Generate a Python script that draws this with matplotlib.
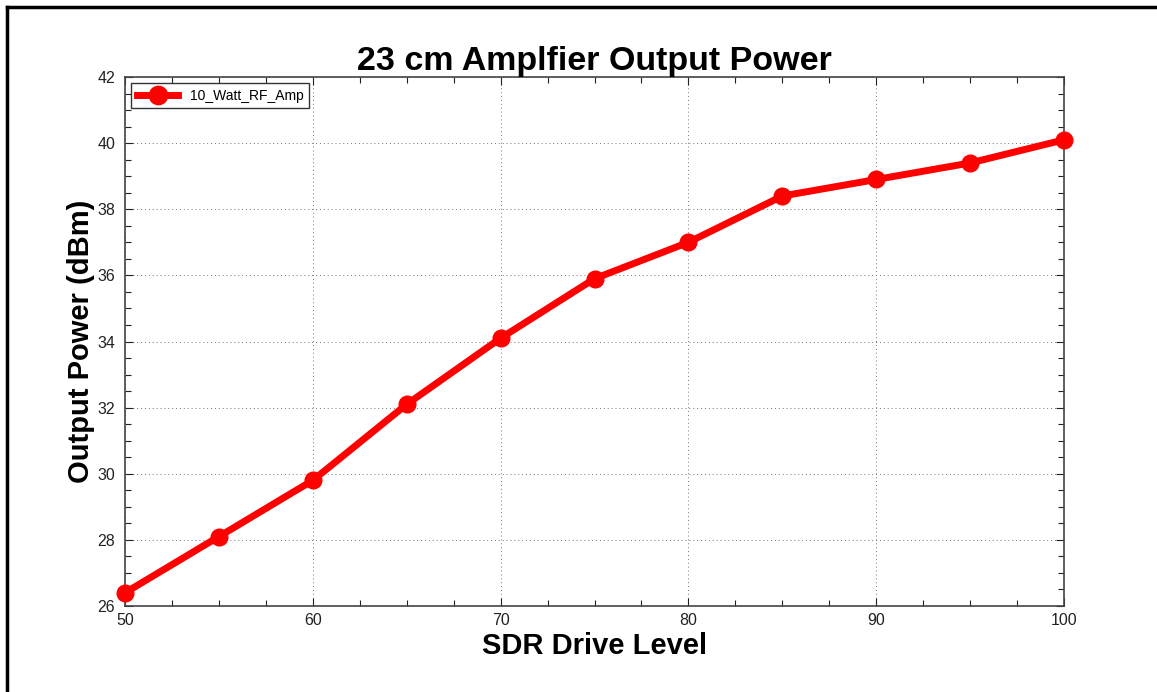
import matplotlib
matplotlib.use("Agg")
import matplotlib.pyplot as plt
from matplotlib.ticker import MultipleLocator
from matplotlib.lines import Line2D

drive_level = [50, 55, 60, 65, 70, 75, 80, 85, 90, 95, 100]
output_dbm = [26.4, 28.1, 29.8, 32.1, 34.1, 35.9, 37.0, 38.4, 38.9, 39.4, 40.1]
series_name = "10_Watt_RF_Amp"
title = "23 cm Amplfier Output Power"
xlabel = "SDR Drive Level"
ylabel = "Output Power (dBm)"

plt.rcParams['font.family'] = ['Liberation Sans', 'DejaVu Sans']

fig = plt.figure(figsize=(11.57, 6.92), dpi=100)
ax = fig.add_axes([125/1157, 1-606/692, (1064-125)/1157, (606-77)/692])

ax.plot(drive_level, output_dbm, color='#ff0000', linewidth=5, marker='o',
        markersize=12, label=series_name, clip_on=False, zorder=3)

ax.set_xlim(50, 100)
ax.set_ylim(26, 42)
ax.xaxis.set_major_locator(MultipleLocator(10))
ax.xaxis.set_minor_locator(MultipleLocator(2.5))
ax.yaxis.set_major_locator(MultipleLocator(2))
ax.yaxis.set_minor_locator(MultipleLocator(0.5))
ax.tick_params(which='both', direction='in', top=True, right=True, labelsize=11.5,
               colors='#222222', width=0.8)
ax.tick_params(which='major', length=6)
ax.tick_params(axis='x', which='major', pad=5)
ax.tick_params(axis='y', which='major', pad=7)
ax.tick_params(which='minor', length=4)
ax.grid(True, which='major', linestyle=(0, (1, 3)), color='#777777', linewidth=0.7)
for s in ax.spines.values():
    s.set_color('#444444')
    s.set_linewidth(1.2)

ax.set_title(title, fontsize=24.5, fontweight='bold', pad=4)
ax.set_xlabel(xlabel, fontsize=21, fontweight='bold', labelpad=3)
ax.set_ylabel(ylabel, fontsize=21, fontweight='bold', labelpad=2)

leg = ax.legend(loc='upper left', fontsize=10, fancybox=False, framealpha=1,
                edgecolor='#333333', borderaxespad=0.45, handlelength=3,
                markerscale=1.1)
leg.get_frame().set_linewidth(1.0)

# outer border (left and top edges visible)
fig.add_artist(Line2D([7/1157, 7/1157], [0, 1-7/692], transform=fig.transFigure,
                      color='black', linewidth=2.5))
fig.add_artist(Line2D([7/1157, 1], [1-7/692, 1-7/692], transform=fig.transFigure,
                      color='black', linewidth=2.5))

fig.savefig("out.png", dpi=100, facecolor='white')
